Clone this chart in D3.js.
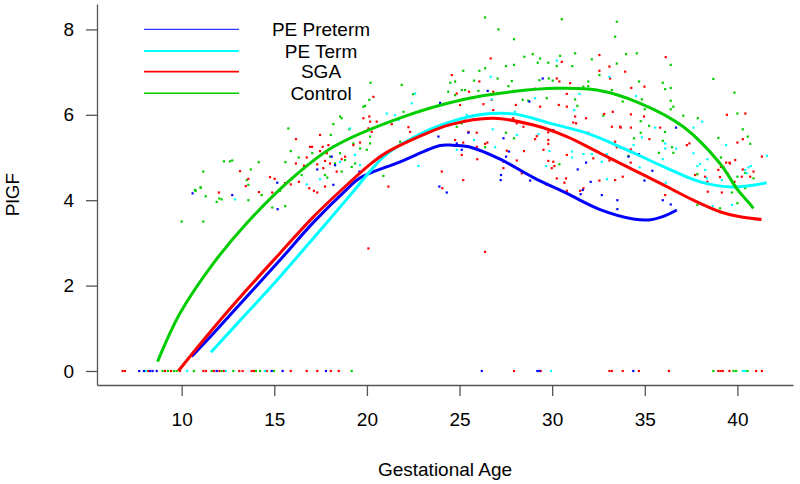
<!DOCTYPE html>
<html><head><meta charset="utf-8">
<script src="https://cdn.jsdelivr.net/npm/d3@7/dist/d3.min.js"></script>
<style>body{margin:0;background:#fff}svg{display:block}text{font-family:"Liberation Sans",Arial,sans-serif}</style>
</head><body>
<script>
const seriesNames = ["PE Preterm","PE Term","SGA","Control"];
const seriesColors = ["#0000FF","#00FFFF","#FF0000","#00CD00"];
const xTicks = [10,15,20,25,30,35,40];
const yTicks = [0,2,4,6,8];

// fitted curves [gestational age, PlGF]
const curvePEPreterm = [[10.54,0.34],[11.71,0.88],[13.51,1.74],[15.31,2.6],[17.11,3.48],[18.9,4.25],[19.62,4.52],[21.79,4.9],[23.95,5.28],[24.5,5.29],[25.5,5.25],[27.19,4.96],[28.99,4.53],[30.79,4.16],[32.59,3.78],[34.38,3.56],[35.3,3.54],[36.0,3.62],[36.73,3.77]];
const curvePETerm = [[11.58,0.44],[13.51,1.35],[15.31,2.21],[17.11,3.11],[19.18,4.16],[20.17,4.68],[21.07,5.08],[22.87,5.55],[24.13,5.78],[25.56,5.96],[26.65,6.03],[28.09,6.01],[29.89,5.8],[31.87,5.57],[34.03,5.18],[36.19,4.75],[37.99,4.43],[39.78,4.31],[41.58,4.41]];
const curveSGA = [[9.82,0.0],[11.71,1.0],[13.51,1.9],[15.31,2.76],[17.11,3.61],[18.9,4.35],[20.17,4.84],[21.07,5.12],[22.87,5.5],[24.5,5.77],[26.82,5.92],[28.99,5.76],[30.79,5.49],[32.59,5.1],[34.38,4.71],[36.19,4.32],[37.62,4.0],[39.06,3.73],[40.3,3.6],[41.3,3.55]];
const curveControl = [[8.7,0.22],[9.91,1.35],[11.71,2.52],[13.51,3.46],[15.85,4.47],[18.19,5.25],[21.8,5.93],[25.2,6.36],[28.0,6.55],[30.25,6.62],[32.41,6.58],[34.75,6.27],[37.08,5.72],[39.06,4.86],[40.0,4.25],[40.6,3.95],[40.86,3.81]];

// observations [gestational age, PlGF]
const ptsPEPreterm = [[10.59,4.16],[12.73,4.12],[15.16,4.41],[15.18,3.79],[17.32,4.72],[18.1,5.02],[18.28,4.82],[18.19,4.36],[19.59,4.67],[23.95,6.28],[23.86,5.49],[23.91,4.32],[24.31,4.18],[24.85,5.33],[26.52,6.56],[29.49,6.85],[28.77,6.31],[30.06,5.64],[27.37,5.45],[25.48,5.58],[25.12,5.18],[27.67,5.14],[27.51,5.02],[27.24,4.59],[27.22,4.47],[28.81,4.46],[31.38,4.72],[31.83,4.88],[32.08,4.43],[31.65,4.24],[31.54,4.14],[32.68,4.12],[33.52,4.0],[33.52,3.79],[34.12,5.02],[36.69,5.7],[34.68,5.08],[35.41,4.69],[34.98,4.46],[35.97,4.0],[36.4,3.9],
[7.71,0],[7.96,0],[8.3,0],[8.43,0],[8.65,0],[11.89,0],[14.86,0],[15.45,0],[17.79,0],[26.2,0],[29.2,0],[29.31,0],[34.38,0]];
const ptsPETerm = [[12.88,4.02],[16.75,4.37],[17.47,4.49],[22.6,6.5],[22.42,6.27],[21.07,6.03],[21.52,5.99],[21.7,5.88],[21.25,5.84],[19.09,5.68],[19.36,5.06],[19.63,4.82],[18.55,4.9],[22.78,4.8],[24.85,5.18],[25.39,6.0],[26.68,6.89],[30.25,7.27],[31.47,6.49],[33.09,6.89],[29.08,6.39],[26.74,6.36],[27.99,6.07],[31.19,6.11],[26.79,5.66],[25.78,5.41],[26.92,5.24],[29.26,5.55],[29.85,5.15],[29.67,4.8],[31.08,5.14],[31.08,5.0],[31.69,5.08],[32.14,5.08],[32.95,5.08],[32.68,4.9],[32.95,4.49],[28.09,5.53],[34.53,6.44],[38.1,5.84],[37.63,5.7],[35.56,5.7],[34.84,5.47],[36.1,5.33],[36.69,5.21],[36.1,5.21],[34.39,5.29],[39.39,5.29],[37.63,5.1],[35.97,4.96],[38.38,4.96],[41.59,5.04],[34.72,4.77],[36.13,4.41],[37.84,4.8],[37.99,4.85],[38.26,4.71],[38.35,4.51],[38.1,3.89],[38.67,3.86],[39.16,4.47],[39.7,3.89],[40.42,4.71],[40.6,4.77],[40.72,4.8],[40.5,4.63],
[8.07,0],[10.3,0],[12.39,0],[14.5,0],[29.94,0],[40.29,0],[40.4,0]];
const ptsSGA = [[13.15,4.68],[13.6,4.5],[13.46,4.33],[12.01,4.18],[14.17,4.19],[14.77,4.54],[15.02,4.5],[14.89,4.18],[15.58,4.4],[15.89,4.37],[16.17,5.43],[17.47,5.53],[17.04,5.25],[17.61,5.25],[17.92,5.29],[17.47,5.15],[16.75,5.0],[16.17,4.86],[16.6,4.81],[17.32,4.84],[17.74,4.92],[16.33,4.43],[16.89,4.28],[17.14,4.22],[17.32,4.18],[17.74,4.32],
[20.35,6.42],[20.13,5.96],[20.17,5.84],[19.81,5.92],[20.53,5.84],[20.08,5.68],[20.26,5.6],[21.34,5.78],[22.24,5.71],[22.33,5.6],[17.83,5.1],[18.82,5.02],[18.64,4.96],[18.01,4.86],[18.37,4.67],[17.65,4.75],[21.16,4.32],[24.85,6.5],[24.58,6.93],[25.03,6.23],[24.04,4.67],[25.12,5.06],[24.76,5.41],[19.27,5.29],[19.63,5.35],[24.07,4.28],[26.38,2.79],[20.08,2.87],[16.93,5.25],
[26.68,7.32],[30.52,7.24],[32.55,7.4],[32.55,7.03],[33.09,7.13],[33.94,7.01],[26.07,6.78],[30.25,6.85],[30.39,6.78],[30.97,6.74],[33.13,6.85],[25.51,6.54],[26.82,6.54],[29.08,6.61],[30.79,6.49],[26.29,6.25],[26.74,6.35],[28.04,6.23],[29.35,6.19],[30.36,6.23],[30.79,6.19],[26.82,6.11],[25.3,5.92],[27.9,5.92],[28.09,5.8],[31.24,5.96],[31.83,5.92],[32.81,6.02],[33.27,6.07],[33.67,5.72],[33.22,5.72],[25.48,5.6],[25.93,5.58],[28.45,5.72],[29.17,5.5],[31.14,5.82],[31.29,5.8],
[25.2,5.35],[25.93,5.25],[25.96,4.96],[26.38,5.32],[26.5,5.35],[25.2,4.47],[27.1,4.98],[27.37,4.9],[27.37,4.75],[27.55,5.16],[28.09,4.93],[28.36,4.63],[28.48,5.15],[29.08,5.43],[29.53,5.18],[29.79,5.41],[29.79,5.32],[29.79,4.92],[30.06,4.9],[29.98,4.75],[30.12,4.8],[30.25,4.51],[30.66,4.41],[30.75,4.51],[29.67,4.37],[30.79,4.22],[31.51,4.22],[31.69,4.28],[30.79,5.06],[31.95,5.58],[29.79,5.59],[32.22,4.98],[32.55,4.46],[33.4,4.47],[33.81,4.55],[33.4,5.37],[33.49,5.24],[33.67,5.24],[33.09,4.93],
[36.13,7.35],[34.98,6.66],[34.27,6.63],[34.96,5.96],[34.25,6.01],[33.7,5.7],[34.25,5.7],[35.83,5.7],[35.25,5.43],[37.27,5.29],[37.41,5.33],[39.43,6.0],[40.43,6.03],[40.29,5.43],[40.0,5.35],[34.24,5.19],[34.41,5.11],[41.32,5.02],[39.88,4.94],[39.57,4.88],[39.39,4.88],[39.11,4.78],[40.29,4.72],
[34.24,4.88],[36.1,4.12],[37.27,4.54],[37.72,4.59],[38.13,4.41],[38.38,4.43],[38.26,4.55],[38.4,4.2],[39.16,4.18],[38.97,4.71],[39.24,4.78],[39.6,4.86],[39.46,4.63],[39.06,4.54],[39.84,4.43],[40.87,4.67],[40.69,4.55],[40.24,4.55],
[6.81,0],[6.94,0],[8.2,0],[9.1,0],[9.42,0],[9.91,0],[11.17,0],[11.31,0],[11.74,0],[12.03,0],[12.28,0],[13.11,0],[13.29,0],[13.78,0],[13.9,0],[14.59,0],[15.89,0],[16.75,0],[17.32,0],[18.05,0],[18.48,0],[27.94,0],[29.38,0],[33.09,0],[33.22,0],[33.81,0],[34.68,0],[36.3,0],[38.97,0],[39.09,0],[39.21,0],[39.57,0],[41.01,0],[41.32,0]];
const ptsControl = [[11.17,4.67],[12.28,4.91],[12.73,4.93],[14.16,4.89],[15.6,4.89],[15.89,5.15],[13.73,4.72],[13.51,4.47],[13.6,4.36],[11.03,4.29],[10.76,4.22],[11.3,4.09],[11.89,3.96],[12.03,4.04],[12.16,4.02],[13.6,4.0],[14.32,4.12],[14.89,3.83],[15.59,3.86],[15.31,4.22],[10.0,3.5],[11.17,3.5],[16.32,5.0],[17.05,5.1],[17.86,4.53],[16.48,4.59],[17.83,5.14],[10.72,4.24],[11.02,4.3],[12.61,4.91],[15.76,5.68],[18.55,5.96],[19.9,6.21],
[20.2,6.75],[21.88,6.7],[22.5,6.48],[25.2,7.03],[24.76,6.78],[24.5,6.75],[25.12,6.58],[24.39,6.54],[24.76,6.46],[20.13,6.35],[19.81,6.19],[18.64,5.92],[18.19,5.78],[19.05,5.66],[18.05,5.53],[20.17,5.49],[20.17,5.33],[19.99,5.18],[19.63,5.21],[19.27,5.33],[18.55,5.1],[18.01,5.02],[18.82,4.94],[18.28,4.86],[19.18,4.78],[19.36,4.86],[18.64,4.67],[17.74,4.59],[20.89,4.57],[21.79,5.37],[24.85,5.72],[21.97,6.07],[25.12,5.8],
[26.38,8.28],[30.52,8.24],[27.1,8.0],[33.49,8.18],[33.4,7.83],[27.94,7.77],[28.5,7.36],[28.95,7.42],[29.35,7.32],[30.43,7.38],[31.24,7.44],[32.14,7.3],[33.99,7.42],[26.07,7.03],[26.38,7.09],[27.51,7.14],[27.94,7.17],[29.22,7.22],[29.79,7.22],[30.25,7.14],[31.09,7.14],[32.55,6.93],[33.49,7.2],[25.78,6.8],[27.06,6.85],[27.82,6.79],[29.31,6.81],[29.82,6.85],[30.03,6.8],[31.95,6.78],[31.95,6.67],[31.68,6.66],[25.3,6.58],[26.02,6.56],[27.64,6.67],[28.41,6.35],[29.71,6.39],[31.24,6.36],[33.22,6.58],[31.36,6.21],[32.76,5.98],[28.71,6.33],
[27.94,5.45],[26.38,5.24],[30.39,4.84],[27.51,5.58],
[34.57,7.44],[36.4,7.17],[34.69,6.78],[35.97,6.75],[36.1,6.6],[36.4,6.63],[38.7,6.84],[39.84,6.52],[33.81,6.31],[34.84,6.36],[36.4,6.33],[36.54,6.19],[36.4,6.13],[35.0,6.13],[37.08,5.98],[37.86,5.92],[34.78,5.85],[35.23,5.74],[36.09,5.6],[34.78,5.58],[34.42,5.45],[35.97,5.39],[36.47,5.24],[40.0,6.03],[40.29,5.66],[40.56,5.49],[40.69,5.32],[38.97,5.46],[39.11,5.0],[35.76,5.11],[34.12,5.04],[36.54,5.11],
[37.84,3.89],[39.06,3.81],[39.7,4.18],[40.0,3.93],[40.0,4.55],[40.42,4.28],[40.87,4.51],[40.42,4.64],[37.84,4.61],
[8.97,0],[9.26,0],[9.58,0],[9.73,0],[10.66,0],[11.62,0],[12.16,0],[12.79,0],[14.01,0],[14.23,0],[14.98,0],[19.18,0],[38.7,0],[39.79,0],[39.93,0],[40.54,0]];

const W = 800, H = 484;
const svg = d3.select("body").append("svg").attr("width", W).attr("height", H);
const x = d3.scaleLinear().domain([5.43, 43.0]).range([97, 793]);
const y = d3.scaleLinear().domain([-0.328, 8.595]).range([385, 4]);

const axisColor = "#555";
const fs = 19;

// axes
const gx = svg.append("g").attr("transform", "translate(0,385)")
  .call(d3.axisBottom(x).tickValues(xTicks).tickSizeInner(11).tickSizeOuter(0).tickPadding(17));
const gy = svg.append("g").attr("transform", "translate(97,0)")
  .call(d3.axisLeft(y).tickValues(yTicks).tickSizeInner(11).tickSizeOuter(0).tickPadding(12));
[gx, gy].forEach(g => {
  g.select(".domain").attr("stroke", axisColor).attr("stroke-width", 1.3);
  g.selectAll(".tick line").attr("stroke", axisColor).attr("stroke-width", 1.3);
  g.selectAll(".tick text").attr("fill", "#000").style("font-size", fs + "px")
    .style("font-family", '"Liberation Sans", Arial, sans-serif');
});

// points
const ptsAll = [ptsPEPreterm, ptsPETerm, ptsSGA, ptsControl];
const drawOrder = [3, 2, 1, 0];
drawOrder.forEach(i => {
  svg.append("g").selectAll("rect").data(ptsAll[i]).join("rect")
    .attr("x", d => x(d[0]) - 1.1).attr("y", d => y(d[1]) - 1.1)
    .attr("width", 2.2).attr("height", 2.2).attr("fill", seriesColors[i]);
});

// curves
const line = d3.line().x(d => x(d[0])).y(d => y(d[1])).curve(d3.curveCatmullRom.alpha(0.5));
const curves = [curvePEPreterm, curvePETerm, curveSGA, curveControl];
curves.forEach((c, i) => {
  svg.append("path").datum(c).attr("d", line).attr("fill", "none")
    .attr("stroke", seriesColors[i]).attr("stroke-width", 3).attr("stroke-linejoin", "round");
});

// legend
const legY = [29.3, 51, 71.7, 93.3];
const legW = [1, 2, 1.7, 1.4];
seriesNames.forEach((n, i) => {
  svg.append("line").attr("x1", 144).attr("x2", 239).attr("y1", legY[i]).attr("y2", legY[i])
    .attr("stroke", seriesColors[i]).attr("stroke-width", legW[i]);
  svg.append("text").attr("x", 321).attr("y", legY[i]).attr("dy", "0.35em")
    .attr("text-anchor", "middle").style("font-size", fs + "px").text(n);
});

// axis titles
svg.append("text").attr("x", 445).attr("y", 476).attr("text-anchor", "middle")
  .style("font-size", fs + "px").text("Gestational Age");
svg.append("text").attr("transform", "translate(19,194.5) rotate(-90)").attr("text-anchor", "middle")
  .style("font-size", fs + "px").text("PlGF");
</script>
</body></html>
